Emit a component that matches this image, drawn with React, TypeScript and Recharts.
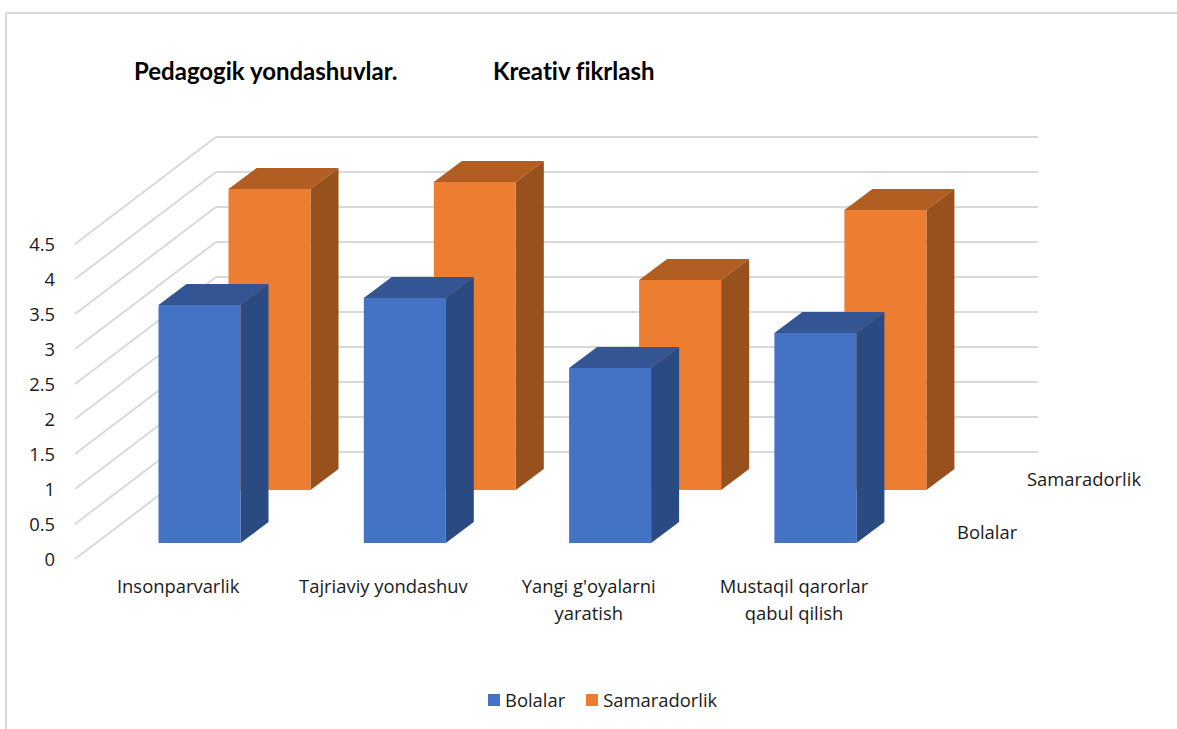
import React from 'react';
import { BarChart, Bar, XAxis, YAxis, Legend } from 'recharts';

const categories = ['Insonparvarlik', 'Tajriaviy yondashuv', "Yangi g'oyalarni\nyaratish", 'Mustaqil qarorlar\nqabul qilish'];
const bolalar = [3.4, 3.5, 2.5, 3];
const samaradorlik = [4.3, 4.4, 3, 4];
const yTicks = [0, 0.5, 1, 1.5, 2, 2.5, 3, 3.5, 4, 4.5];

const rows = categories.map((name, i) => ({ name, bolalar: bolalar[i], samaradorlik: samaradorlik[i] }));

const FONT = '"Open Sans", sans-serif';
const TITLE_FONT = 'Lato, sans-serif';
const TEXT = '#1a1a1a';
const GRID = '#d9d9d9';
const LABEL_SIZE = 18.4;
const DX = 28;
const DY = 21;

const Box3D = (front: string, side: string, top: string) => (props: any) => {
  const { x, y, width, height } = props;
  const r = x + width;
  const b = y + height;
  return (
    <g>
      <polygon points={`${x},${y} ${r},${y} ${r + DX},${y - DY} ${x + DX},${y - DY}`} fill={top} />
      <polygon points={`${r},${y} ${r + DX},${y - DY} ${r + DX},${b - DY} ${r},${b}`} fill={side} />
      <rect x={x} y={y} width={width} height={height} fill={front} />
    </g>
  );
};

// value label plus the floor-to-wall diagonal and the line along the back wall
const ValueTick = (props: any) => {
  const { y, payload } = props;
  return (
    <g>
      <line x1={75} y1={y} x2={216} y2={y - 107} stroke={GRID} strokeWidth={2} />
      <line x1={216} y1={y - 107} x2={1038} y2={y - 107} stroke={GRID} strokeWidth={2} />
      <text x={55} y={y + 7} textAnchor="end" fontSize={LABEL_SIZE} fontFamily={FONT} fill={TEXT}>{payload.value}</text>
    </g>
  );
};

const CategoryTick = (props: any) => {
  const { x, y, payload } = props;
  const lines = String(payload.value).split('\n');
  return (
    <text textAnchor="middle" fontSize={LABEL_SIZE} fontFamily={FONT} fill={TEXT}>
      {lines.map((line, i) => (
        <tspan key={line} x={x - 21} y={y - 4 + i * 26.5}>{line}</tspan>
      ))}
    </text>
  );
};

const LegendRow = () => (
  <div style={{ display: 'flex', alignItems: 'center', fontFamily: FONT, fontSize: LABEL_SIZE, color: TEXT, lineHeight: '24px' }}>
    <span style={{ width: 12, height: 12, background: '#4472C4', marginRight: 5 }} />
    <span style={{ marginRight: 21 }}>Bolalar</span>
    <span style={{ width: 12, height: 12, background: '#ED7D31', marginRight: 5 }} />
    <span>Samaradorlik</span>
  </div>
);

export default function App() {
  const titleStyle = { fontVariantLigatures: 'none' } as React.CSSProperties;
  return (
    <div style={{ position: 'absolute', left: 0, top: 0, width: 1177, height: 729, background: '#fff', overflow: 'hidden' }}>
      <div style={{ position: 'absolute', left: 5, top: 12, right: 0, height: 2, background: GRID }} />
      <div style={{ position: 'absolute', left: 5, top: 12, bottom: 0, width: 2, background: GRID }} />

      {/* walls and value axis sit in their own chart so they stay behind the boxes */}
      <div style={{ position: 'absolute', left: 0, top: 0 }}>
        <BarChart width={1177} height={729} data={rows} margin={{ top: 104, right: 139, bottom: 170, left: 0 }}>
          <YAxis yAxisId="main" width={75} domain={[0, 6.5]} ticks={yTicks} interval={0} axisLine={false} tickLine={false} tick={<ValueTick />} />
          <XAxis dataKey="name" hide />
          <Bar dataKey="bolalar" yAxisId="main" legendType="none" isAnimationActive={false} shape={() => null} />
        </BarChart>
      </div>

      <div style={{ position: 'absolute', left: 0, top: 0 }}>
        <BarChart width={1177} height={729} data={rows} margin={{ top: 104, right: 139, bottom: 0, left: 75 }}>
          <YAxis yAxisId="front" hide domain={[0, 6]} padding={{ top: 19, bottom: 16 }} />
          <YAxis yAxisId="back" hide domain={[0, 5]} padding={{ top: 36, bottom: 69 }} />
          <XAxis xAxisId="front" dataKey="name" height={170} interval={0} axisLine={false} tickLine={false} padding={{ left: 21.5, right: 120.3 }} tick={<CategoryTick />} />
          <XAxis xAxisId="back" dataKey="name" hide padding={{ left: 91.5, right: 50.3 }} />
          <Bar dataKey="samaradorlik" name="Samaradorlik" xAxisId="back" yAxisId="back" barSize={82} isAnimationActive={false} shape={Box3D('#ED7D31', '#98501C', '#B25D22')} />
          <Bar dataKey="bolalar" name="Bolalar" xAxisId="front" yAxisId="front" barSize={82} isAnimationActive={false} shape={Box3D('#4472C4', '#2A4A82', '#335594')} />
          <Legend layout="horizontal" verticalAlign="middle" content={<LegendRow />} wrapperStyle={{ left: 488, top: 688, width: 300 }} />
          <text x={1027} y={486} fontSize={LABEL_SIZE} fontFamily={FONT} fill={TEXT}>Samaradorlik</text>
          <text x={957} y={539} fontSize={LABEL_SIZE} fontFamily={FONT} fill={TEXT}>Bolalar</text>
          <text x={134} y={80} fontSize={24} fontWeight={700} fontFamily={TITLE_FONT} fill="#000" style={titleStyle}>Pedagogik yondashuvlar.</text>
          <text x={493} y={80} fontSize={24} fontWeight={700} fontFamily={TITLE_FONT} fill="#000" style={titleStyle}>Kreativ fikrlash</text>
        </BarChart>
      </div>
    </div>
  );
}
